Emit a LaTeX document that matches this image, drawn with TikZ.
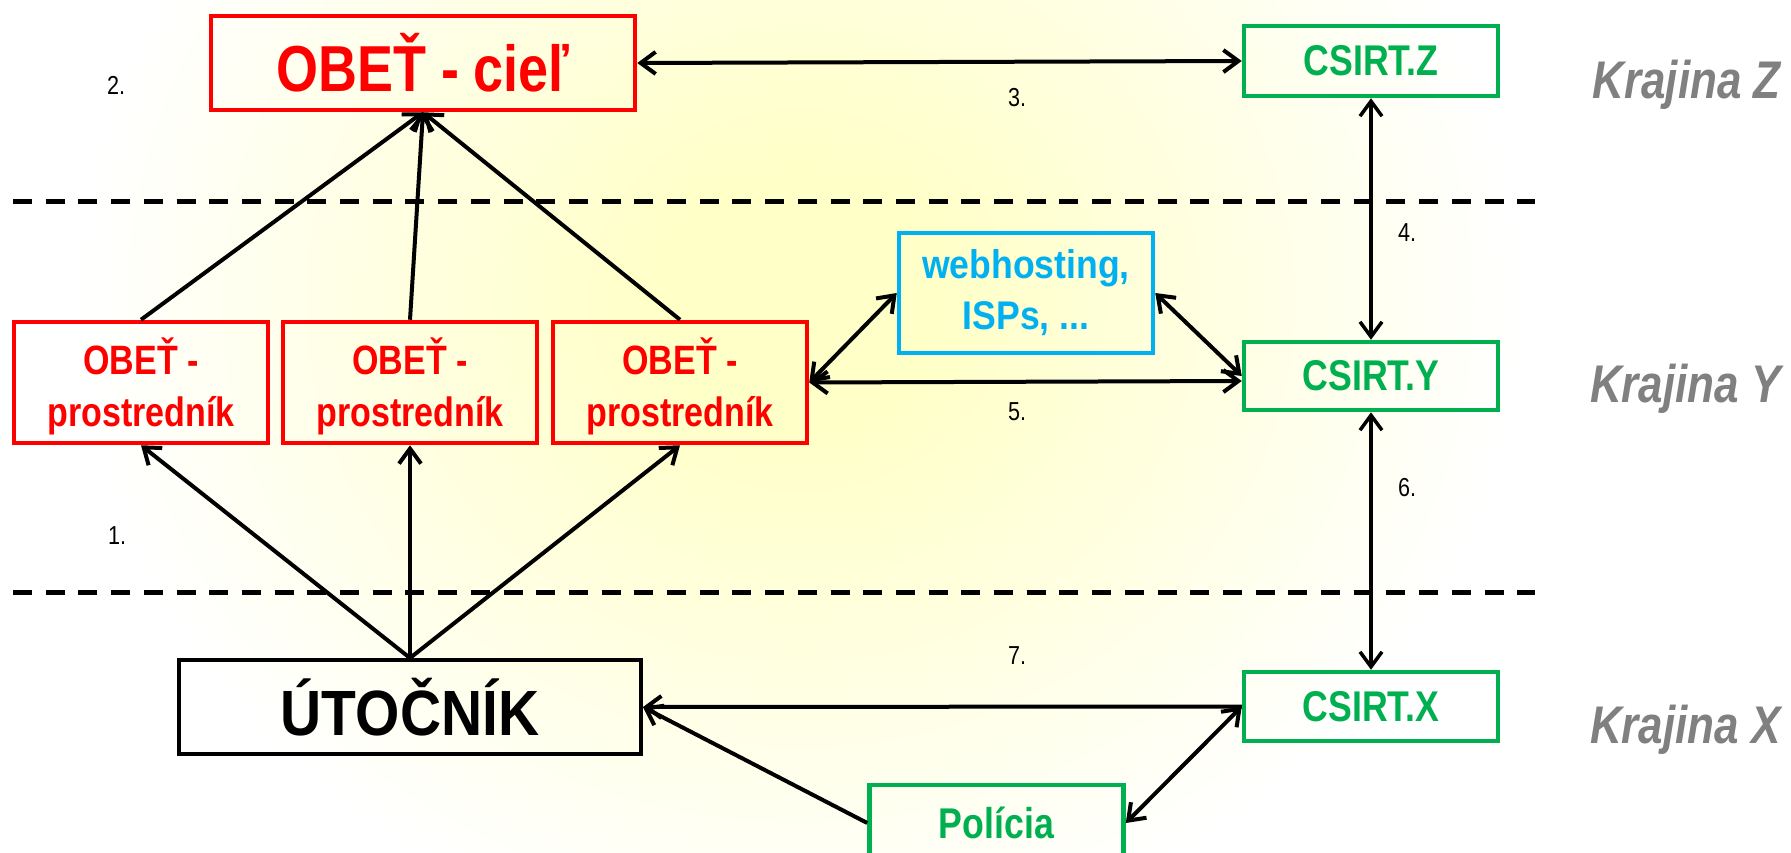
\documentclass[tikz,border=0pt]{standalone}
\usepackage{fontspec}
\setmainfont{Liberation Sans}
\newfontfamily\nar{Liberation Sans}[FakeStretch=0.83]
\newfontfamily\narb{Liberation Sans}[FakeStretch=0.89]
\usetikzlibrary{arrows.meta}
\definecolor{cred}{HTML}{FF0000}
\definecolor{cgreen}{HTML}{00B050}
\definecolor{cblue}{HTML}{00B0F0}
\definecolor{cgray}{HTML}{808080}
\definecolor{cyel}{HTML}{FFFFC8}
\pgfdeclareradialshading{glow}{\pgfpoint{0bp}{0bp}}{color(0bp)=(cyel); color(5bp)=(cyel); color(25bp)=(white); color(50bp)=(white)}
\begin{document}
\begin{tikzpicture}[x=1pt,y=-1pt,
  box/.style={draw, line width=4.5pt, inner sep=0pt, align=center},
  redbox/.style={box, draw=cred, text=cred},
  midbox/.style={redbox, minimum width=254pt, minimum height=121pt, text depth=0pt,
    font=\nar\bfseries\fontsize{41}{52}\selectfont},
  greenbox/.style={box, draw=cgreen, text=cgreen, minimum width=254pt, minimum height=70pt,
    font=\nar\bfseries\fontsize{43}{50}\selectfont},
  conn/.style={line width=4pt, >={Straight Barb[length=15pt,width=22pt]}},
  vconn/.style={conn, line width=3.5pt},
  dashsep/.style={line width=5pt, dash pattern=on 19pt off 13.7pt},
  num/.style={font=\nar\fontsize{26}{30}\selectfont, inner sep=0pt},
  country/.style={font=\nar\bfseries\itshape\fontsize{53}{60}\selectfont, text=cgray,
    anchor=base east, inner sep=0pt},
]
\useasboundingbox (0,0) rectangle (1791,853);
\clip (0,0) rectangle (1791,853);
\fill[white] (0,0) rectangle (1791,853);
\shade[shading=glow] (800,300) ellipse [x radius=720, y radius=650];

% country separators
\draw[dashsep] (13,202) -- (1535,202);
\draw[dashsep] (13,592) -- (1535,592);

% boxes
\node[redbox, minimum width=424pt, minimum height=94pt,
  font=\nar\bfseries\fontsize{65}{78}\selectfont] (ciel) at (423,63) {OBEŤ - cieľ};
\node[greenbox] (cz) at (1371,61) {CSIRT.Z};
\node[greenbox, minimum height=68pt] (cy) at (1371,376) {CSIRT.Y};
\node[greenbox, minimum height=69pt] (cx) at (1371,706.5) {CSIRT.X};
\node[greenbox, minimum height=76pt] (pol) at (996.5,823) {Polícia};
\node[box, draw=cblue, text=cblue, minimum width=254pt, minimum height=120pt,
  font=\narb\bfseries\fontsize{40}{51}\selectfont] (web) at (1026,293) {webhosting,\\ISPs, ...};
\node[midbox] (p1) at (141,382.5) {OBEŤ -\\prostredník};
\node[midbox] (p2) at (410,382.5) {OBEŤ -\\prostredník};
\node[midbox] (p3) at (680,382.5) {OBEŤ -\\prostredník};
\node[box, draw=black, line width=4pt, minimum width=462pt, minimum height=94pt,
  font=\narb\bfseries\fontsize{64}{75}\selectfont] (ut) at (410,707) {ÚTOČNÍK};

% connectors
\draw[conn,->] (p1.north) -- (ciel.south);
\draw[conn,->] (p2.north) -- (ciel.south);
\draw[conn,->] (p3.north) -- (ciel.south);
\draw[conn,->] (ut.north) -- (p1.south);
\draw[conn,->] (ut.north) -- (p2.south);
\draw[conn,->] (ut.north) -- (p3.south);
\draw[conn,<->] (ciel.east) -- (cz.west);
\draw[vconn,<->] (cz.south) -- (cy.north);
\draw[vconn,<->] (cy.south) -- (cx.north);
\draw[conn,<->] (p3.east) -- ([yshift=-5pt]cy.west);
\draw[conn,<->] (p3.east) -- (web.west);
\draw[conn,<->] (web.east) -- (cy.west);
\draw[conn,->] (cx.west) -- (ut.east);
\draw[conn,->] (pol.west) -- (ut.east);
\draw[conn,<->] (pol.east) -- (cx.west);

% step numbers
\node[num] (n1) at (117,536) {1.};
\node[num] (n2) at (116,85) {2.};
\node[num] (n3) at (1017,98) {3.};
\node[num] (n4) at (1407,233) {4.};
\node[num] (n5) at (1017,412) {5.};
\node[num] (n6) at (1407,488) {6.};
\node[num] (n7) at (1017,656) {7.};

% countries
\node[country] (kz) at (1781,99) {Krajina Z};
\node[country] (ky) at (1781,402) {Krajina Y};
\node[country] (kx) at (1781,743) {Krajina X};
\end{tikzpicture}
\end{document}
